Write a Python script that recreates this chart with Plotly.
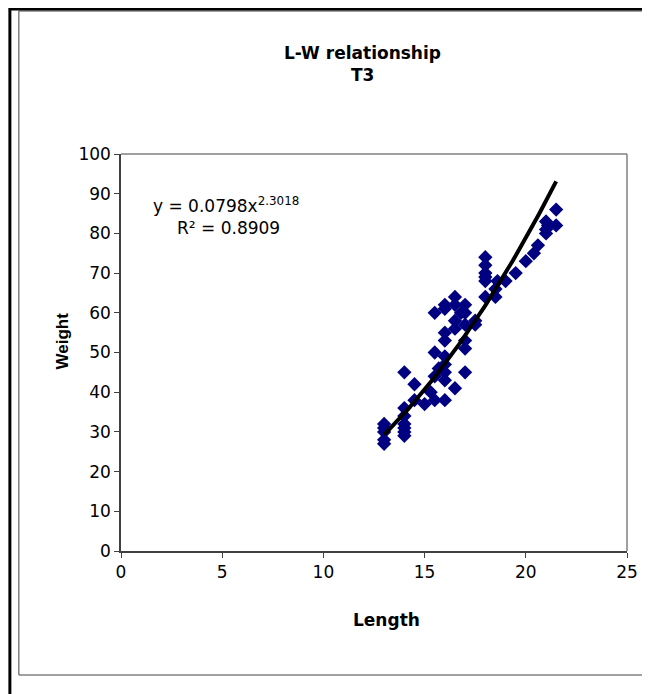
import numpy as np
import plotly.graph_objects as go

# ---- data ----
length = [13, 13, 13, 13, 13,
          14, 14, 14, 14, 14, 14, 14,
          14.5, 14.5, 15, 15.3,
          15.5, 15.5, 15.5, 15.5, 15.7,
          16, 16, 16, 16, 16, 16, 16, 16, 16,
          16.5, 16.5, 16.5, 16.5, 16.5, 16.8,
          17, 17, 17, 17, 17, 17,
          17.5, 17.5,
          18, 18, 18, 18, 18, 18,
          18.5, 18.5, 18.6, 19, 19.5, 20, 20.4, 20.6,
          21, 21, 21, 21.1, 21.5, 21.5]
weight = [27, 28, 30, 31, 32,
          29, 30, 31, 32, 34, 36, 45,
          38, 42, 37, 40,
          38, 44, 50, 60, 46,
          38, 43, 45, 47, 49, 53, 55, 61, 62,
          41, 56, 58, 62, 64, 60,
          45, 51, 53, 57, 60, 62,
          57, 58,
          64, 68, 69, 70, 72, 74,
          64, 66, 68, 68, 70, 73, 75, 77,
          80, 81, 83, 82, 82, 86]

# power trendline coefficients printed on the chart
trend_a = 0.0798
trend_b = 2.3018
trend_range = [13, 21.5]

x_ticks = [0, 5, 10, 15, 20, 25]
y_ticks = [0, 10, 20, 30, 40, 50, 60, 70, 80, 90, 100]

# page offset of the figure (body margin)
OFF = 8
W, H = 650 - OFF, 694 - OFF
# plot area in page pixels
L, R, T, B = 121, 631, 154, 551


def px(xp):
    return (xp - L) / (R - L)


def py(yp):
    return (B - yp) / (B - T)


tx = np.linspace(trend_range[0], trend_range[1], 100)
ty = trend_a * tx ** trend_b

fig = go.Figure()
fig.add_trace(go.Scatter(x=length, y=weight, mode="markers",
                         marker=dict(symbol="diamond", size=11, color="#000080",
                                     line=dict(width=0)),
                         showlegend=False, hoverinfo="x+y"))
fig.add_trace(go.Scatter(x=tx, y=ty, mode="lines",
                         line=dict(color="black", width=4),
                         showlegend=False, hoverinfo="skip"))

tickfont = dict(family="DejaVu Sans", size=17, color="black")

fig.update_layout(
    width=W, height=H,
    margin=dict(l=L - OFF, r=W - (R - OFF), t=T - OFF, b=H - (B - OFF), pad=0),
    paper_bgcolor="white", plot_bgcolor="white",
    xaxis=dict(range=[0, 25], tickvals=x_ticks, showgrid=False, zeroline=False,
               showline=True, linecolor="#404040", linewidth=1.5,
               ticks="outside", ticklen=5, tickcolor="#404040",
               tickfont=tickfont, fixedrange=True),
    yaxis=dict(range=[0, 100], tickvals=y_ticks, showgrid=False, zeroline=False,
               showline=True, linecolor="#404040", linewidth=1.5,
               ticks="outside", ticklen=5, tickcolor="#404040",
               tickfont=tickfont, fixedrange=True),
    font=dict(family="DejaVu Sans", color="black"),
)

shapes = [
    # plot area top & right border (gray)
    dict(type="line", xref="paper", yref="paper", x0=0, x1=1, y0=1, y1=1,
         line=dict(color="#808080", width=1.5)),
    dict(type="line", xref="paper", yref="paper", x0=1, x1=1, y0=0, y1=1,
         line=dict(color="#808080", width=1.5)),
    # chart area border (gray)
    dict(type="line", xref="paper", yref="paper", x0=px(18), x1=px(660), y0=py(11), y1=py(11),
         line=dict(color="#808080", width=1.5)),
    dict(type="line", xref="paper", yref="paper", x0=px(18), x1=px(18), y0=py(11), y1=py(675),
         line=dict(color="#808080", width=1.5)),
    dict(type="line", xref="paper", yref="paper", x0=px(18), x1=px(660), y0=py(675), y1=py(675),
         line=dict(color="#808080", width=1.5)),
    # outer page border (black)
    dict(type="line", xref="paper", yref="paper", x0=px(8), x1=px(660), y0=py(9), y1=py(9),
         line=dict(color="black", width=3)),
    dict(type="line", xref="paper", yref="paper", x0=px(9), x1=px(9), y0=py(8), y1=py(700),
         line=dict(color="black", width=3)),
]

annotations = [
    dict(text="<b>L-W relationship</b>", x=px(364), y=py(53), xref="paper", yref="paper",
         showarrow=False, font=dict(family="DejaVu Sans", size=17, color="black"),
         xanchor="center", yanchor="middle"),
    dict(text="<b>T3</b>", x=px(364), y=py(75), xref="paper", yref="paper",
         showarrow=False, font=dict(family="DejaVu Sans", size=17, color="black"),
         xanchor="center", yanchor="middle"),
    dict(text="<b>Length</b>", x=px(389), y=py(620), xref="paper", yref="paper",
         showarrow=False, font=dict(family="DejaVu Sans", size=17, color="black"),
         xanchor="center", yanchor="middle"),
    dict(text="<b>Weight</b>", x=px(62), y=py(341), xref="paper", yref="paper",
         showarrow=False, textangle=-90,
         font=dict(family="Liberation Sans", size=17, color="black"),
         xanchor="center", yanchor="middle"),
    dict(text="y = 0.0798x<sup>2.3018</sup>", x=px(151), y=py(205), xref="paper", yref="paper",
         showarrow=False, font=dict(family="DejaVu Sans", size=17, color="black"),
         xanchor="left", yanchor="middle"),
    dict(text="R² = 0.8909", x=px(229), y=py(228), xref="paper", yref="paper",
         showarrow=False, font=dict(family="DejaVu Sans", size=17, color="black"),
         xanchor="center", yanchor="middle"),
]

fig.update_layout(shapes=shapes, annotations=annotations)

fig.write_html("out.html")
